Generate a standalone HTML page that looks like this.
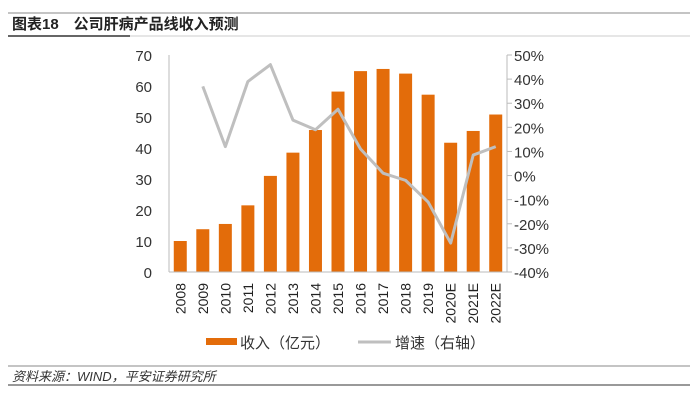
<!DOCTYPE html>
<html><head><meta charset="utf-8"><style>
body{margin:0;background:#fff;}
svg{display:block;font-family:"Liberation Sans","Noto Sans CJK SC",sans-serif;}
</style></head><body>
<svg id="c" width="700" height="400">
<line x1="8" y1="13" x2="690" y2="13" stroke="#888" stroke-width="1"/>
<text x="12" y="29" font-size="15" font-weight="bold" fill="#222">图表18　公司肝病产品线收入预测</text>
<line x1="8" y1="36" x2="130" y2="36" stroke="#333" stroke-width="1.5"/>
<line x1="130" y1="36" x2="690" y2="36" stroke="#ccc" stroke-width="1"/>
<g id="plot"></g>
<rect x="206" y="338" width="31" height="7" fill="#E36C0A"/>
<text x="240" y="348" font-size="15" fill="#333">收入（亿元）</text>
<line x1="358" y1="342" x2="391" y2="342" stroke="#BFBFBF" stroke-width="3"/>
<text x="395" y="348" font-size="15" fill="#333">增速（右轴）</text>
<line x1="8" y1="366" x2="690" y2="366" stroke="#888" stroke-width="1"/>
<text x="12" y="381" font-size="13" font-style="italic" fill="#333">资料来源：WIND，平安证券研究所</text>
<line x1="8" y1="385" x2="690" y2="385" stroke="#333" stroke-width="1"/>
</svg>
<script>
const categories=["2008","2009","2010","2011","2012","2013","2014","2015","2016","2017","2018","2019","2020E","2021E","2022E"];
const revenue=[10,13.8,15.5,21.5,31,38.5,45.8,58.2,64.8,65.5,64,57.2,41.7,45.5,50.8];
const growth=[null,37,12,39,46,23,19,27.5,11,1,-2,-11,-28,8.5,12];
const leftTicks=[0,10,20,30,40,50,60,70];
const rightTicks=[-40,-30,-20,-10,0,10,20,30,40,50];
const NS="http://www.w3.org/2000/svg";
const g=document.getElementById('plot');
const x0=169,x1=507,yB=272,yT=55;
const yL=v=>yB-(v/70)*(yB-yT);
const yR=v=>yB-((v+40)/90)*(yB-yT);
const step=(x1-x0)/categories.length;
const xC=i=>x0+step*(i+0.5);
function mk(t,a){const e=document.createElementNS(NS,t);for(const k in a)e.setAttribute(k,a[k]);g.appendChild(e);return e;}
leftTicks.forEach(v=>{const t=mk('text',{x:152,y:yL(v)+6,'text-anchor':'end','font-size':15,fill:'#333'});t.textContent=v;

});
rightTicks.forEach(v=>{const t=mk('text',{x:514,y:yR(v)+6,'font-size':15,fill:'#333'});t.textContent=v+'%';


const tk=mk('line',{x1:507,x2:512,y1:yR(v),y2:yR(v),stroke:'#bbb'});

});
revenue.forEach((v,i)=>{const r=mk('rect',{x:xC(i)-6.5,y:yL(v),width:13,height:yB-yL(v),fill:'#E36C0A'});


const t=mk('text',{transform:`translate(${xC(i)+5},283) rotate(-90)`,'text-anchor':'end','font-size':14,fill:'#222'});t.textContent=categories[i];

});
const ax=mk('line',{x1:x0,x2:x1,y1:yB,y2:yB,stroke:'#bbb'});


const ra=mk('line',{x1:x1,x2:x1,y1:yT,y2:yB,stroke:'#bbb'});


const la=mk('line',{x1:x0,x2:x0,y1:yT,y2:yB,stroke:'#bbb'});


let pts=[];growth.forEach((v,i)=>{if(v!==null)pts.push(xC(i)+','+yR(v));});
const pl=mk('polyline',{points:pts.join(' '),fill:'none',stroke:'#BFBFBF','stroke-width':3,'stroke-linejoin':'round'});


</script>
</body></html>
